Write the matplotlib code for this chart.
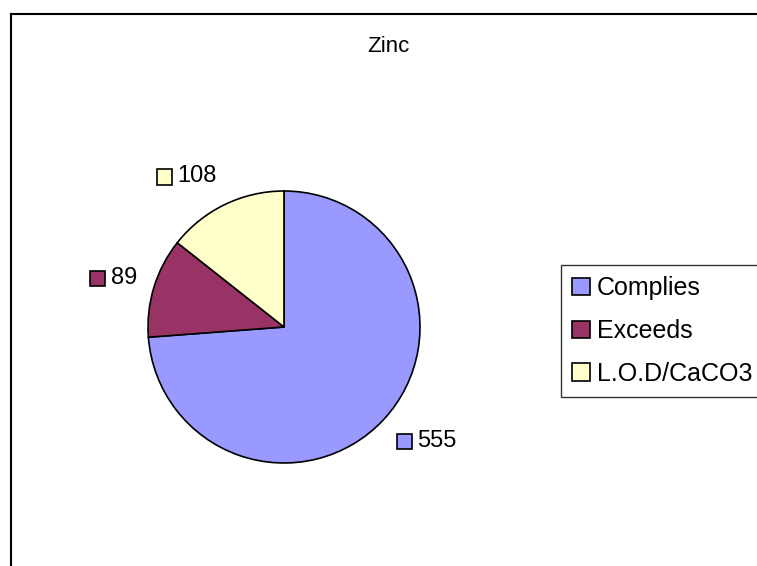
import numpy as np
import matplotlib
matplotlib.use("Agg")
import matplotlib.pyplot as plt
from matplotlib.patches import Patch, Rectangle
from matplotlib.lines import Line2D
from matplotlib.offsetbox import HPacker, TextArea, DrawingArea, AnnotationBbox

plt.rcParams['font.family'] = ['Liberation Sans', 'DejaVu Sans']

title = "Zinc"
categories = ["Complies", "Exceeds", "L.O.D/CaCO3"]
values = [555, 89, 108]
colors = ["#9999FF", "#993366", "#FFFFCC"]

W, H = 757, 566
fig = plt.figure(figsize=(W / 100, H / 100), dpi=100)

# chart frame (only top and left visible, rest runs off the picture)
fig.add_artist(Line2D([11 / W, 1.0], [1 - 14 / H, 1 - 14 / H], color="black", lw=1.5))
fig.add_artist(Line2D([11 / W, 11 / W], [0.0, 1 - 14 / H], color="black", lw=1.5))

# pie axes: centre (284, 327) px, radius 136 px
cx, cy, r = 284, 327, 136
ax = fig.add_axes([(cx - r) / W, (H - cy - r) / H, 2 * r / W, 2 * r / H])
wedges, _ = ax.pie(values, colors=colors, startangle=90, counterclock=False,
                   radius=1.0, wedgeprops=dict(edgecolor="black", linewidth=1.2))
ax.set_xlim(-1, 1)
ax.set_ylim(-1, 1)
ax.set_axis_off()

# data labels: coloured square + value, just outside each slice
for w, v, c in zip(wedges, values, colors):
    th = np.deg2rad((w.theta1 + w.theta2) / 2)
    da = DrawingArea(12, 12, 0, 0)
    da.add_artist(Rectangle((0, 0), 11, 11, facecolor=c, edgecolor="black", lw=1.2))
    ta = TextArea(str(v), textprops=dict(fontsize=17))
    box = HPacker(children=[da, ta], align="center", pad=0, sep=3)
    bx = 0.0 if np.cos(th) > 0 else 1.0
    ab = AnnotationBbox(box, (1.13 * np.cos(th), 1.15 * np.sin(th)),
                        box_alignment=(bx, 0.5 - 0.5 * np.sin(th)),
                        frameon=False, xycoords="data", annotation_clip=False)
    ax.add_artist(ab)

fig.text(388 / W, 1 - 46 / H, title, ha="center", va="center", fontsize=16)

handles = [Patch(facecolor=c, edgecolor="black", lw=1.2) for c in colors]
leg = fig.legend(handles, categories, loc="upper left",
                 bbox_to_anchor=(561 / W, 1 - 265 / H), fontsize=18,
                 frameon=True, fancybox=False, shadow=False, edgecolor="black",
                 borderpad=0.45, borderaxespad=0, handlelength=0.7, handleheight=0.7,
                 handletextpad=0.3, labelspacing=0.75)
leg.get_frame().set_linewidth(1.0)

fig.savefig("out.png", dpi=100)
